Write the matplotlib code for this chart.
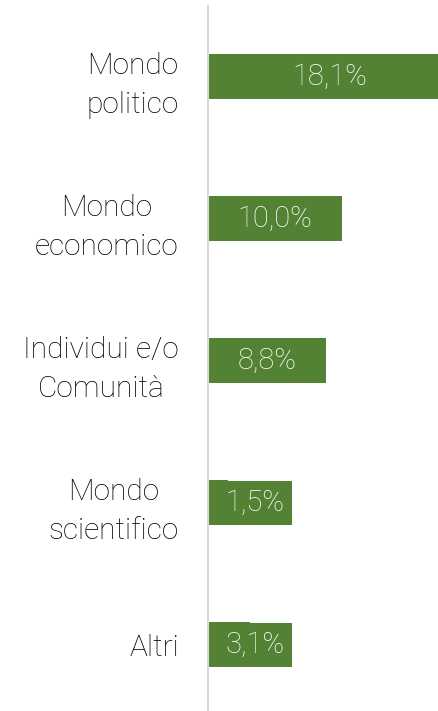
import matplotlib

matplotlib.use("Agg")
import matplotlib.pyplot as plt

categories = ["Mondo\npolitico", "Mondo\neconomico", "Individui e/o\nComunità",
              "Mondo\nscientifico", "Altri"]
values = [18.1, 10.0, 8.8, 1.5, 3.1]
labels = ["18,1%", "10,0%", "8,8%", "1,5%", "3,1%"]

GREEN = "#548235"
FONT = ["Roboto", "DejaVu Sans"]

fig = plt.figure(figsize=(4.38, 7.11), dpi=100)
ax = fig.add_axes([208 / 438, -0.007, 1 - 208 / 438, 0.999])

y = list(range(len(categories)))
ax.barh(y, values, height=0.317, color=GREEN)
ax.set_xlim(0, 17.16)
ax.set_ylim(len(categories) - 0.5, -0.5)

for yi, v, lab in zip(y, values, labels):
    # small bars: Excel nudges the label so it stays inside the plot
    xpos = max(v / 2, 3.5)
    ax.text(xpos, yi, lab, ha="center", va="center", color="white",
            fontsize=21, family=FONT, fontweight="light",
            bbox=dict(boxstyle="square,pad=0.27", fc=GREEN, ec="none"))

ax.set_yticks(y)
ax.set_yticklabels(categories, fontsize=21.5, family=FONT, fontweight="light",
                   multialignment="center", color="#000000", linespacing=1.5)
ax.tick_params(axis="y", length=0, pad=21)
ax.set_xticks([])
for s in ["top", "right", "bottom"]:
    ax.spines[s].set_visible(False)
ax.spines["left"].set_color("#d9d9d9")
ax.spines["left"].set_linewidth(1.5)

fig.savefig("out.png", dpi=100)
plt.close(fig)
